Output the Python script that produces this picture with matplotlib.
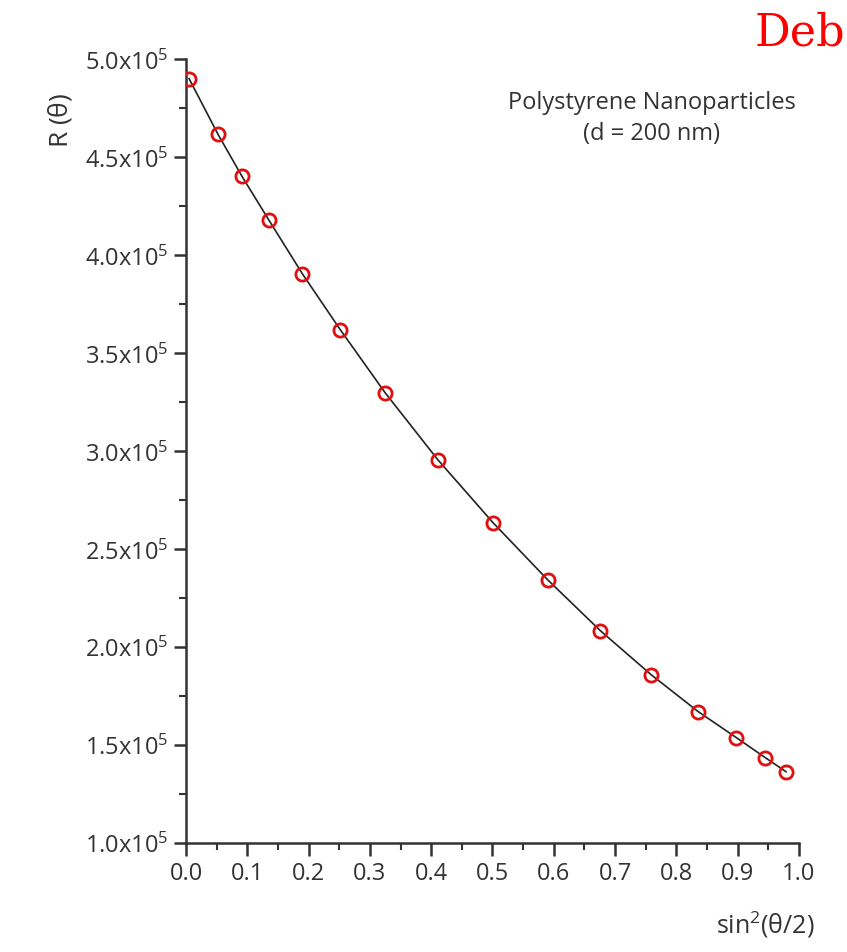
import matplotlib
matplotlib.use("Agg")
import matplotlib.pyplot as plt
from matplotlib.ticker import MultipleLocator, FuncFormatter

x_vals = [0.005, 0.052, 0.091, 0.135, 0.190, 0.252, 0.325, 0.411, 0.501,
          0.590, 0.676, 0.759, 0.836, 0.898, 0.945, 0.979]
r_vals = [4.90e5, 4.617e5, 4.403e5, 4.179e5, 3.903e5, 3.617e5, 3.296e5, 2.954e5,
          2.633e5, 2.342e5, 2.082e5, 1.857e5, 1.668e5, 1.536e5, 1.434e5, 1.362e5]
x_ticks = [0.0, 0.1, 0.2, 0.3, 0.4, 0.5, 0.6, 0.7, 0.8, 0.9, 1.0]
y_ticks = [1.0e5, 1.5e5, 2.0e5, 2.5e5, 3.0e5, 3.5e5, 4.0e5, 4.5e5, 5.0e5]

fam = "Open Sans"
plt.rcParams['font.family'] = [fam, 'DejaVu Sans']
plt.rcParams['mathtext.default'] = 'regular'
plt.rcParams['mathtext.fontset'] = 'custom'
plt.rcParams['mathtext.rm'] = fam
plt.rcParams['mathtext.it'] = fam

fig = plt.figure(figsize=(8.47, 9.53), dpi=100)
ax = fig.add_axes([0.2196, 0.1147, 0.7237, 0.8223])
txtc = '#333333'
ax.plot(x_vals, r_vals, color='#222222', lw=1.2, zorder=2)
ax.plot(x_vals, r_vals, 'o', mfc='none', mec='#e01010', mew=2, ms=9.5, zorder=3)

ax.set_xlim(0, 1.0)
ax.set_ylim(1.0e5, 5.0e5)
ax.set_xticks(x_ticks)
ax.set_yticks(y_ticks)
ax.xaxis.set_minor_locator(MultipleLocator(0.05))
ax.yaxis.set_minor_locator(MultipleLocator(0.25e5))
ax.xaxis.set_major_formatter(FuncFormatter(lambda v, p: f"{v:.1f}"))
ax.yaxis.set_major_formatter(FuncFormatter(lambda v, p: f"{v/1e5:.1f}x10$^5$"))
for s in ['top', 'right']:
    ax.spines[s].set_visible(False)
for s in ['left', 'bottom']:
    ax.spines[s].set_linewidth(1.8)
    ax.spines[s].set_color('#333333')
ax.tick_params(which='major', length=9, width=1.8, color='#333333',
               labelsize=17, labelcolor=txtc, pad=4)
ax.tick_params(which='minor', length=5, width=1.5, color='#333333')

fig.text(60/847, 1-120/953, r"R ($\theta$)", rotation=90, ha='center', va='center',
         fontsize=19, color=txtc)
fig.text(765/847, 1-925/953, r"sin$^2$($\theta$/2)", ha='center', va='center',
         fontsize=18, color=txtc)
ax.text(0.76, 0.945, "Polystyrene Nanoparticles", transform=ax.transAxes,
        ha='center', va='center', fontsize=17, color=txtc)
ax.text(0.76, 0.905, "(d = 200 nm)", transform=ax.transAxes,
        ha='center', va='center', fontsize=17, color=txtc)
fig.text(845/847, 1-33/953, "Deb", ha='right', va='center', fontsize=32,
         color='red', family='DejaVu Serif')

fig.savefig("out.png", dpi=100)
